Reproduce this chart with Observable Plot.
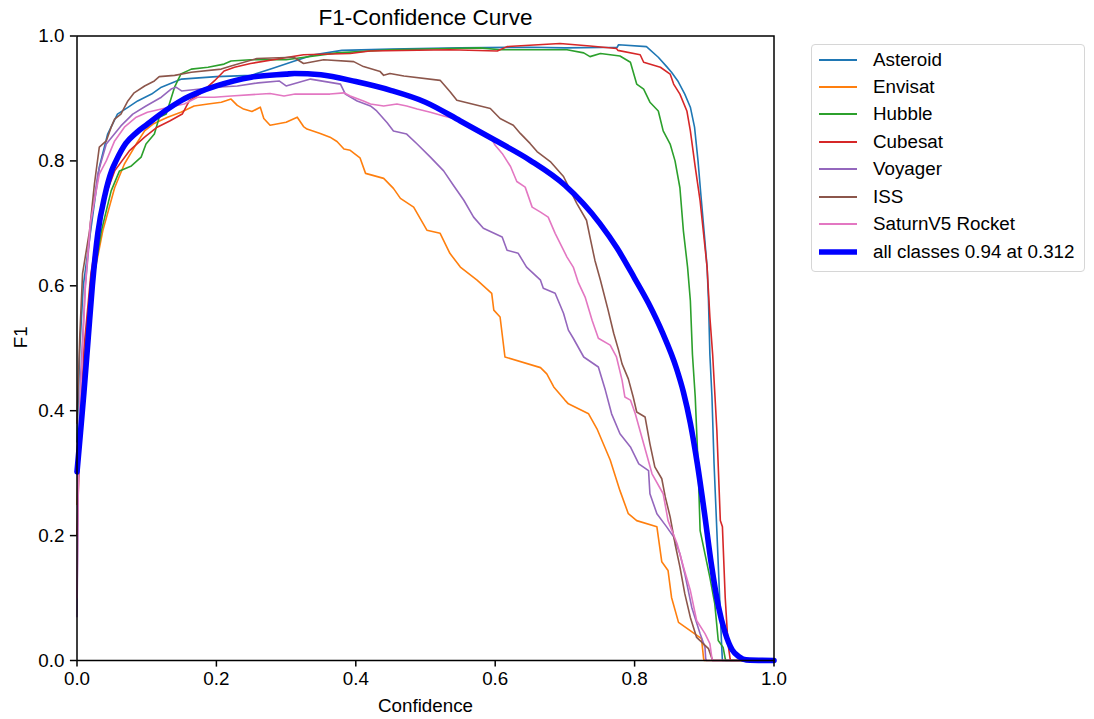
<!DOCTYPE html>
<html>
<head>
<meta charset="utf-8">
<script src="https://cdn.jsdelivr.net/npm/d3@7"></script>
<script src="https://cdn.jsdelivr.net/npm/@observablehq/plot@0.6"></script>
<style>
  body { margin: 0; background: #fff; font-family: "Liberation Sans", Arial, sans-serif; }
  #wrap { position: relative; width: 1094px; height: 719px; overflow: hidden; }
  #legend {
    position: absolute; left: 811px; top: 44px; width: 274px; height: 228px;
    box-sizing: border-box; border: 1.5px solid #d6d6d6; border-radius: 4px;
    background: rgba(255,255,255,0.8);
  }
  .row { position: absolute; left: 6px; height: 24px; display: flex; align-items: center;
         font-size: 18.8px; color: #000; white-space: nowrap; }
  .row svg { margin-right: 15px; }
</style>
</head>
<body>
<div id="wrap">
  <div id="chart"></div>
  <div id="legend"></div>
</div>
<script>
// Per-class F1 vs confidence threshold, [confidence, F1]
const classNames = ["Asteroid", "Envisat", "Hubble", "Cubesat", "Voyager", "ISS", "SaturnV5 Rocket"];
const classColors = ["#1f77b4", "#ff7f0e", "#2ca02c", "#d62728", "#9467bd", "#8c564b", "#e377c2"];

const asteroid = [[0,0.35],[0.004,0.5],[0.009,0.6],[0.019,0.683],[0.032,0.79],[0.044,0.843],[0.058,0.875],[0.072,0.885],[0.087,0.896],[0.107,0.907],[0.121,0.918],[0.15,0.931],[0.2,0.935],[0.25,0.937],[0.28,0.948],[0.31,0.959],[0.34,0.97],[0.38,0.977],[0.45,0.979],[0.55,0.981],[0.65,0.982],[0.7,0.981],[0.775,0.982],[0.777,0.986],[0.817,0.983],[0.834,0.966],[0.846,0.951],[0.853,0.942],[0.862,0.928],[0.872,0.907],[0.88,0.886],[0.886,0.854],[0.891,0.8],[0.895,0.747],[0.9,0.683],[0.904,0.63],[0.906,0.576],[0.908,0.49],[0.911,0.422],[0.914,0.315],[0.918,0.208],[0.922,0.101],[0.925,0.021],[0.926,0],[1,0]];

const envisat = [[0,0.25],[0.006,0.42],[0.015,0.55],[0.025,0.62],[0.037,0.688],[0.054,0.757],[0.068,0.795],[0.085,0.827],[0.097,0.848],[0.109,0.859],[0.13,0.87],[0.149,0.878],[0.168,0.888],[0.188,0.891],[0.207,0.894],[0.221,0.899],[0.23,0.889],[0.239,0.883],[0.251,0.879],[0.263,0.886],[0.268,0.868],[0.277,0.857],[0.3,0.862],[0.316,0.87],[0.325,0.855],[0.33,0.851],[0.349,0.844],[0.363,0.838],[0.373,0.831],[0.383,0.819],[0.392,0.817],[0.406,0.805],[0.414,0.78],[0.44,0.772],[0.454,0.756],[0.464,0.74],[0.483,0.726],[0.502,0.689],[0.521,0.684],[0.535,0.652],[0.55,0.63],[0.574,0.609],[0.595,0.588],[0.598,0.561],[0.607,0.55],[0.614,0.486],[0.665,0.469],[0.674,0.459],[0.684,0.438],[0.7,0.417],[0.705,0.411],[0.734,0.395],[0.746,0.371],[0.765,0.321],[0.779,0.272],[0.791,0.235],[0.803,0.224],[0.832,0.214],[0.839,0.158],[0.848,0.144],[0.853,0.101],[0.863,0.061],[0.896,0.035],[0.899,0.003],[0.9,0],[1,0]];

const hubble = [[0,0.3],[0.006,0.42],[0.015,0.53],[0.025,0.62],[0.035,0.688],[0.049,0.752],[0.061,0.784],[0.078,0.792],[0.092,0.806],[0.099,0.827],[0.111,0.843],[0.118,0.87],[0.128,0.875],[0.14,0.918],[0.149,0.939],[0.164,0.947],[0.188,0.95],[0.211,0.955],[0.221,0.96],[0.249,0.962],[0.3,0.962],[0.373,0.973],[0.45,0.978],[0.535,0.98],[0.578,0.981],[0.607,0.978],[0.703,0.978],[0.727,0.973],[0.736,0.967],[0.751,0.972],[0.779,0.968],[0.794,0.958],[0.803,0.923],[0.813,0.915],[0.822,0.894],[0.834,0.88],[0.841,0.848],[0.851,0.827],[0.858,0.8],[0.865,0.757],[0.87,0.688],[0.876,0.63],[0.88,0.576],[0.883,0.49],[0.887,0.422],[0.891,0.315],[0.894,0.208],[0.908,0.133],[0.915,0.091],[0.92,0.032],[0.927,0.021],[0.93,0.003],[0.931,0],[1,0]];

const cubesat = [[0,0.2],[0.004,0.35],[0.01,0.5],[0.02,0.62],[0.036,0.73],[0.054,0.784],[0.075,0.816],[0.097,0.838],[0.115,0.854],[0.133,0.864],[0.151,0.875],[0.161,0.896],[0.176,0.907],[0.197,0.928],[0.211,0.944],[0.226,0.95],[0.249,0.956],[0.325,0.97],[0.392,0.972],[0.42,0.976],[0.535,0.978],[0.603,0.976],[0.617,0.983],[0.693,0.988],[0.736,0.984],[0.774,0.98],[0.776,0.977],[0.808,0.97],[0.813,0.958],[0.837,0.95],[0.851,0.939],[0.856,0.923],[0.865,0.907],[0.875,0.88],[0.88,0.848],[0.887,0.79],[0.894,0.736],[0.899,0.683],[0.904,0.63],[0.908,0.55],[0.912,0.49],[0.918,0.369],[0.923,0.224],[0.926,0.214],[0.93,0.101],[0.934,0.027],[0.937,0.003],[0.938,0],[1,0]];

const voyager = [[0,0.07],[0.002,0.3],[0.005,0.45],[0.012,0.6],[0.02,0.7],[0.03,0.78],[0.042,0.827],[0.063,0.856],[0.08,0.875],[0.099,0.888],[0.121,0.902],[0.135,0.915],[0.142,0.918],[0.15,0.912],[0.2,0.918],[0.23,0.92],[0.26,0.925],[0.29,0.928],[0.3,0.92],[0.335,0.931],[0.378,0.923],[0.385,0.907],[0.402,0.896],[0.421,0.888],[0.43,0.88],[0.445,0.861],[0.454,0.848],[0.473,0.843],[0.488,0.827],[0.507,0.806],[0.526,0.784],[0.54,0.761],[0.555,0.737],[0.569,0.71],[0.583,0.692],[0.61,0.678],[0.617,0.657],[0.633,0.652],[0.645,0.63],[0.665,0.609],[0.669,0.596],[0.686,0.588],[0.698,0.556],[0.705,0.529],[0.712,0.516],[0.727,0.486],[0.748,0.47],[0.758,0.433],[0.767,0.395],[0.779,0.363],[0.794,0.342],[0.806,0.315],[0.82,0.304],[0.822,0.267],[0.832,0.235],[0.846,0.214],[0.856,0.198],[0.865,0.171],[0.872,0.139],[0.882,0.085],[0.894,0.043],[0.901,0.021],[0.902,0.003],[0.903,0],[1,0]];

const iss = [[0,0.38],[0.004,0.52],[0.008,0.62],[0.018,0.688],[0.025,0.763],[0.032,0.822],[0.042,0.832],[0.049,0.854],[0.054,0.867],[0.063,0.875],[0.073,0.896],[0.082,0.909],[0.097,0.92],[0.111,0.928],[0.118,0.935],[0.14,0.937],[0.164,0.942],[0.207,0.947],[0.221,0.952],[0.258,0.964],[0.311,0.966],[0.325,0.956],[0.354,0.962],[0.397,0.959],[0.411,0.951],[0.435,0.943],[0.44,0.937],[0.449,0.94],[0.469,0.936],[0.521,0.929],[0.535,0.911],[0.545,0.897],[0.564,0.892],[0.593,0.884],[0.607,0.868],[0.626,0.857],[0.636,0.844],[0.65,0.828],[0.66,0.815],[0.679,0.799],[0.698,0.775],[0.717,0.732],[0.731,0.705],[0.736,0.678],[0.743,0.641],[0.751,0.609],[0.762,0.561],[0.77,0.524],[0.777,0.497],[0.782,0.475],[0.791,0.451],[0.798,0.422],[0.803,0.398],[0.815,0.39],[0.822,0.347],[0.829,0.31],[0.839,0.291],[0.844,0.262],[0.851,0.23],[0.858,0.187],[0.865,0.15],[0.872,0.107],[0.88,0.069],[0.889,0.037],[0.906,0.019],[0.911,0.003],[0.912,0],[1,0]];

const saturnV5 = [[0,0.1],[0.002,0.3],[0.004,0.4],[0.012,0.6],[0.019,0.7],[0.032,0.779],[0.042,0.8],[0.054,0.832],[0.068,0.854],[0.085,0.87],[0.101,0.878],[0.121,0.883],[0.14,0.888],[0.154,0.891],[0.173,0.902],[0.197,0.902],[0.221,0.904],[0.277,0.908],[0.297,0.904],[0.313,0.907],[0.363,0.907],[0.383,0.909],[0.392,0.904],[0.411,0.896],[0.421,0.891],[0.44,0.888],[0.459,0.891],[0.473,0.888],[0.488,0.883],[0.507,0.878],[0.526,0.872],[0.55,0.865],[0.574,0.849],[0.593,0.839],[0.6,0.825],[0.61,0.812],[0.622,0.791],[0.631,0.767],[0.643,0.758],[0.653,0.726],[0.665,0.718],[0.676,0.71],[0.686,0.684],[0.703,0.646],[0.712,0.63],[0.719,0.606],[0.729,0.582],[0.739,0.545],[0.748,0.516],[0.765,0.505],[0.774,0.486],[0.782,0.449],[0.786,0.422],[0.794,0.417],[0.801,0.395],[0.813,0.347],[0.825,0.299],[0.841,0.267],[0.848,0.224],[0.861,0.187],[0.87,0.15],[0.88,0.112],[0.889,0.064],[0.901,0.043],[0.908,0.027],[0.911,0.003],[0.912,0],[1,0]];

const classCurves = [asteroid, envisat, hubble, cubesat, voyager, iss, saturnV5];

// Mean F1 over all classes (smooth curve)
const allClasses = [[0,0.302],[0.005,0.365],[0.01,0.43],[0.016,0.515],[0.022,0.6],[0.03,0.685],[0.04,0.745],[0.05,0.785],[0.056,0.8],[0.07,0.828],[0.085,0.845],[0.1,0.858],[0.125,0.879],[0.15,0.897],[0.175,0.91],[0.2,0.92],[0.25,0.934],[0.3,0.939],[0.312,0.94],[0.35,0.938],[0.4,0.927],[0.45,0.913],[0.5,0.894],[0.55,0.864],[0.6,0.833],[0.65,0.801],[0.7,0.761],[0.75,0.7],[0.775,0.66],[0.8,0.612],[0.82,0.572],[0.84,0.525],[0.86,0.468],[0.87,0.43],[0.88,0.38],[0.89,0.315],[0.9,0.238],[0.91,0.155],[0.92,0.088],[0.93,0.044],[0.94,0.017],[0.95,0.006],[0.96,0.001],[1,0]];
const bestF1 = 0.94;
const bestConf = 0.312;

const xTicks = [0, 0.2, 0.4, 0.6, 0.8, 1.0];
const yTicks = [0, 0.2, 0.4, 0.6, 0.8, 1.0];
const chartTitle = "F1-Confidence Curve";
const xLabel = "Confidence";
const yLabel = "F1";
const allLabel = `all classes ${bestF1.toFixed(2)} at ${bestConf.toFixed(3)}`;

const classRows = classCurves.flatMap((pts, i) =>
  pts.map(([c, f]) => ({cls: classNames[i], conf: c, f1: f})));
const allRows = allClasses.map(([c, f]) => ({conf: c, f1: f}));

const font = "Liberation Sans, Arial, sans-serif";
const tickFmt = d3.format(".1f");

const chart = Plot.plot({
  width: 1094,
  height: 719,
  marginLeft: 76.5,
  marginRight: 320.5,
  marginTop: 35.5,
  marginBottom: 59,
  style: {fontFamily: font, background: "white", overflow: "visible", color: "#000"},
  x: {domain: [0, 1]},
  y: {domain: [0, 1]},
  color: {domain: classNames, range: classColors},
  marks: [
    Plot.line(classRows, {x: "conf", y: "f1", z: "cls", stroke: "cls", strokeWidth: 1.6, strokeLinejoin: "round"}),
    Plot.line(allRows, {x: "conf", y: "f1", stroke: "#0000ff", strokeWidth: 5.6, strokeLinejoin: "round", curve: "monotone-x"}),
    Plot.frame({stroke: "#000", strokeWidth: 1.5}),
    Plot.axisX({ticks: xTicks, tickFormat: tickFmt, tickSize: 6.6, tickPadding: 5, strokeWidth: 1.5,
                fontSize: 18.8, label: null}),
    Plot.axisY({ticks: yTicks, tickFormat: tickFmt, tickSize: 6.6, tickPadding: 6, strokeWidth: 1.5,
                fontSize: 18.8, label: null}),
    Plot.text([xLabel], {frameAnchor: "bottom", dy: 45, lineAnchor: "middle", fontSize: 18.8, fill: "#000"}),
    Plot.text([yLabel], {frameAnchor: "left", dx: -56.5, rotate: -90, lineAnchor: "middle", fontSize: 18.8, fill: "#000"}),
    Plot.text([chartTitle], {frameAnchor: "top", dy: -18.5, lineAnchor: "middle", fontSize: 22.5, fill: "#000"})
  ]
});
document.getElementById("chart").appendChild(chart);

// Legend
const legend = document.getElementById("legend");
const entries = classNames.map((n, i) => ({label: n, color: classColors[i], width: 1.8}))
  .concat([{label: allLabel, color: "#0000ff", width: 5.6}]);
entries.forEach((e, i) => {
  const row = document.createElement("div");
  row.className = "row";
  row.style.top = (16 + i * 27.43 - 12 - 1.5) + "px";
  row.innerHTML = `<svg width="40" height="10"><line x1="1" x2="39" y1="5" y2="5" stroke="${e.color}" stroke-width="${e.width}"/></svg><span>${e.label}</span>`;
  legend.appendChild(row);
});
</script>
</body>
</html>
